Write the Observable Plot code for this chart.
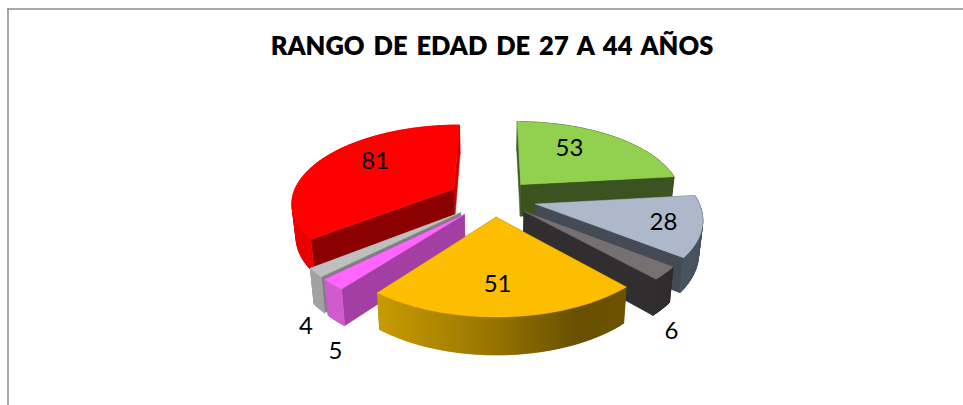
<!doctype html>
<html lang="es">
<head>
<meta charset="utf-8">
<title>Rango de edad de 27 a 44 años</title>
<script src="https://cdn.jsdelivr.net/npm/d3@7"></script>
<script src="https://cdn.jsdelivr.net/npm/@observablehq/plot@0.6"></script>
<style>
  html, body { margin: 0; padding: 0; background: #fff; }
  svg { display: block; }
</style>
</head>
<body>
<div id="chart"></div>
<script>
const chartTitle = "RANGO DE EDAD DE 27 A 44 AÑOS";
const values = [53, 28, 6, 51, 5, 4, 81];

// Styles of each slice, in the same order as values
const topColors    = ["#92d050", "#adb9ca", "#767171", "#fdbd00", "#ff66ff", "#bfbfbf", "#ff0000"];
const startWall    = ["#3f5a20", "#444b55", "#302e2f", "#6a5100", "#a33fa3", "#808080", "#8b0000"];
const endWall      = ["#3b5320", "#444b55", "#302e2f", "#6a5100", "#a33fa3", "#808080", "#d00000"];
const arcWall      = ["#3b5320", "#4a5461", "#302e2f", "url(#arcOrange)", "#d05ccf", "#a3a3a3", "#e80000"];
const explosion    = [0.25, 0.26, 0.24, 0.235, 0.27, 0.27, 0.285];
const paintOrder   = [0, 6, 1, 2, 5, 4, 3];
const labelRadius  = [0.887, 1.037, 1.60, 0.947, 1.68, 1.604, 0.951];
const labelTurnDeg = [-6.3, 0.8, 15, 1.4, -15.5, -14, 7];

// Camera of the tilted pie
const cx = 494, cy = 198, radius = 162, flatten = 77, perspective = 0.16, depth = 33, converge = 0.02;

function project(X, Z, H) {
  const s = (1 - converge * H) / (1 - perspective * Z);
  return {x: cx + radius * X * s, y: cy + (flatten * Z + depth * H) * s};
}

const slices = d3.pie().sort(null)(values);
const dirX = a => Math.sin(a);
const dirZ = a => -Math.cos(a);

// Build the faces of each slice from its angles
const faces = [];
paintOrder.forEach(i => {
  const {startAngle: a0, endAngle: a1} = slices[i];
  const mid = (a0 + a1) / 2;
  const ox = explosion[i] * dirX(mid), oz = explosion[i] * dirZ(mid);
  const rim = d3.range(0, 61).map(k => a0 + (a1 - a0) * k / 60);
  const apex = H => project(ox, oz, H);
  const edge = (a, H) => project(ox + dirX(a), oz + dirZ(a), H);
  // Wall strips overlap their neighbour so no seams show between them
  const strips = rim.slice(0, -1).map((p, k) => {
    const q = rim[Math.min(k + 2, rim.length - 1)];
    return {pts: [edge(p, 0), edge(q, 0), edge(q, 1), edge(p, 1)], fill: arcWall[i], z: oz + dirZ((p + q) / 2)};
  });
  const polys = [
    {pts: [apex(0), edge(a0, 0), edge(a0, 1), apex(1)], fill: startWall[i], z: oz + dirZ(a0) / 2},
    {pts: [apex(0), edge(a1, 0), edge(a1, 1), apex(1)], fill: endWall[i], z: oz + dirZ(a1) / 2},
    ...strips
  ].sort((p, q) => p.z - q.z);
  polys.push({pts: [apex(0), ...rim.map(a => edge(a, 0))], fill: topColors[i]});
  polys.forEach((p, j) => [...p.pts, p.pts[0]].forEach(pt => faces.push({...pt, face: `${i}-${j}`, fill: p.fill})));
});

const labels = slices.map((d, i) => {
  const a = (d.startAngle + d.endAngle) / 2 + labelTurnDeg[i] * Math.PI / 180;
  return {...project(labelRadius[i] * dirX(a), labelRadius[i] * dirZ(a), 0), text: String(values[i])};
});

const gradient = () => {
  const svg = d3.create("svg:defs");
  const g = svg.append("linearGradient").attr("id", "arcOrange")
    .attr("gradientUnits", "userSpaceOnUse")
    .attr("x1", 375).attr("x2", 626).attr("y1", 0).attr("y2", 0);
  [[0, "#c99c00"], [0.45, "#997600"], [0.8, "#685000"], [1, "#6b5200"]].forEach(([o, c]) =>
    g.append("stop").attr("offset", o).attr("stop-color", c));
  return svg.node();
};

const chart = Plot.plot({
  width: 963,
  height: 405,
  margin: 0,
  x: {domain: [0, 963], range: [0, 963], axis: null},
  y: {domain: [0, 405], range: [0, 405], axis: null},
  color: {type: "identity"},
  style: {background: "#fff", overflow: "hidden", wordSpacing: "3px"},
  marks: [
    gradient,
    Plot.ruleX([7.5], {y1: 8.5, y2: 405, stroke: "#8c8c8c", strokeWidth: 1.5}),
    Plot.ruleY([8.5], {x1: 7, x2: 963, stroke: "#8c8c8c", strokeWidth: 1.5}),
    Plot.line(faces, {x: "x", y: "y", z: "face", fill: "fill", stroke: "fill", strokeWidth: 0.5}),
    Plot.text(labels, {x: "x", y: "y", text: "text", fontFamily: "Lato", fontSize: 24, fill: "#000"}),
    Plot.text([chartTitle], {x: [491.5], y: [46], text: d => d, fontFamily: "Lato", fontWeight: 800, fontSize: 25.5, fill: "#000"})
  ]
});
document.getElementById("chart").append(chart);
</script>
</body>
</html>
